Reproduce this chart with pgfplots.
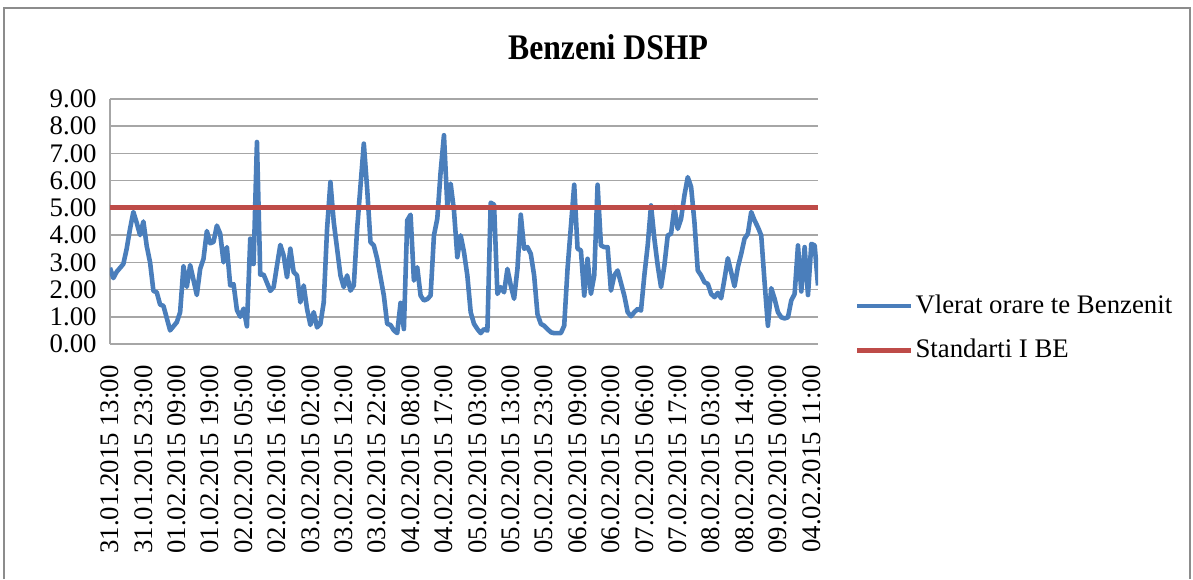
\documentclass[border=0pt]{standalone}
\usepackage{fontspec}
\setmainfont{Liberation Serif}
\usepackage{pgfplots}
\pgfplotsset{compat=1.18}
\definecolor{serblue}{HTML}{4A7EBB}
\definecolor{serred}{HTML}{BE4B48}
\definecolor{gridgray}{HTML}{A6A6A6}
\definecolor{framegray}{HTML}{8C8C8C}

\pgfplotstableread{
x y
0 2.80
1 2.42
2 2.65
4 2.94
5 3.50
6 4.23
7 4.85
8 4.45
9 4.00
10 4.50
11 3.60
12 3.00
13 1.95
14 1.90
15 1.45
16 1.40
18 0.50
19 0.65
20 0.80
21 1.17
22 2.85
23 2.10
24 2.90
26 1.80
27 2.76
28 3.13
29 4.15
30 3.70
31 3.75
32 4.35
33 4.05
34 3.00
35 3.56
36 2.15
37 2.20
38 1.25
39 1.00
40 1.30
41 0.65
42 3.87
43 2.94
44 7.42
45 2.55
46 2.55
47 2.25
48 1.95
49 2.09
50 2.88
51 3.64
52 3.25
53 2.45
54 3.50
55 2.64
56 2.52
57 1.53
58 2.15
59 1.29
60 0.70
61 1.17
62 0.61
63 0.74
64 1.53
65 4.23
66 5.95
67 4.48
68 3.50
69 2.52
70 2.09
71 2.52
72 1.96
73 2.15
74 4.23
76 7.36
77 5.71
78 3.74
79 3.62
80 3.13
82 1.78
83 0.74
84 0.70
85 0.50
86 0.40
87 1.51
88 0.55
89 4.54
90 4.75
91 2.33
92 2.82
93 1.78
94 1.60
95 1.65
96 1.78
97 3.99
98 4.60
99 6.32
100 7.67
101 5.09
102 5.89
103 4.90
104 3.19
105 3.99
106 3.37
107 2.52
108 1.17
109 0.74
110 0.55
111 0.40
112 0.55
113 0.49
114 5.19
115 5.12
116 1.84
117 2.09
118 1.90
119 2.76
120 2.15
121 1.66
122 2.76
123 4.75
124 3.50
125 3.56
126 3.31
127 2.52
128 1.10
129 0.74
130 0.67
131 0.55
132 0.43
133 0.40
134 0.40
135 0.40
136 0.67
137 2.76
139 5.85
140 3.50
141 3.44
142 1.78
143 3.13
144 1.84
145 2.52
146 5.85
147 3.62
148 3.56
149 3.56
150 1.96
151 2.52
152 2.70
154 1.78
155 1.17
156 1.02
157 1.17
158 1.29
159 1.23
160 2.52
161 3.62
162 5.09
163 3.87
164 2.88
165 2.09
166 2.88
167 3.99
168 4.05
169 5.03
170 4.23
171 4.60
172 5.46
173 6.13
174 5.77
175 4.48
176 2.70
177 2.52
178 2.27
179 2.21
180 1.84
181 1.72
182 1.88
183 1.68
184 2.39
185 3.15
186 2.64
187 2.12
188 2.82
189 3.31
190 3.87
191 4.05
192 4.85
193 4.54
194 4.29
195 3.99
196 2.27
197 0.67
198 2.05
199 1.66
200 1.17
201 0.98
202 0.94
203 0.98
204 1.60
205 1.84
206 3.62
207 1.93
208 3.56
209 1.80
210 3.68
211 3.62
212 2.15
}\benzene

\begin{document}
\begin{tikzpicture}
\useasboundingbox (0pt,0pt) rectangle (596.5pt,289.5pt);
\draw[framegray, line width=1pt] (2pt,0pt) -- (2pt,285.5pt) -- (595pt,285.5pt) -- (595pt,0pt);
\node[font=\fontsize{18}{21}\selectfont\bfseries] at (304pt,266pt) {\scalebox{0.88}[1]{Benzeni DSHP}};
\begin{axis}[
  at={(55pt,117.5pt)}, anchor=south west,
  width=354pt, height=122.5pt, scale only axis,
  xmin=0, xmax=212, ymin=0, ymax=9,
  axis x line*=bottom, axis y line*=left,
  axis line style={-, gridgray, line width=0.75pt},
  ymajorgrids, grid style={gridgray, line width=0.75pt},
  major tick length=0pt,
  ytick={0,1,...,9},
  yticklabel={\pgfmathprintnumber[fixed,fixed zerofill,precision=2,assume math mode=true]{\tick}},
  yticklabel style={inner sep=0pt, font=\fontsize{13.4}{16}\selectfont},
  yticklabel shift=6.5pt,
  xtick={0,10,...,210},
  xticklabels={31.01.2015 13:00,31.01.2015 23:00,01.02.2015 09:00,01.02.2015 19:00,02.02.2015 05:00,02.02.2015 16:00,03.02.2015 02:00,03.02.2015 12:00,03.02.2015 22:00,04.02.2015 08:00,04.02.2015 17:00,05.02.2015 03:00,05.02.2015 13:00,05.02.2015 23:00,06.02.2015 09:00,06.02.2015 20:00,07.02.2015 06:00,07.02.2015 17:00,08.02.2015 03:00,08.02.2015 14:00,09.02.2015 00:00,04.02.2015 11:00},
  xticklabel style={rotate=90, anchor=east, inner sep=0pt, font=\fontsize{13.4}{16}\selectfont},
  xticklabel shift=10.5pt,
  legend style={draw=none, fill=none, at={(1.0510,0.065)}, anchor=west,
    font=\fontsize{13.4}{16}\selectfont, inner sep=0pt, row sep=10pt,
    nodes={inner sep=0pt, text height=9.5pt, text depth=2.5pt}},
  legend cell align=left,
  /tikz/every odd column/.append style={column sep=1pt},
  legend image code/.code={\draw[#1] (0pt,0pt) -- (27pt,0pt);},
]
\addplot[serblue, line width=2.3pt, line join=round] table[x=x,y=y] {\benzene};
\addlegendentry{Vlerat orare te Benzenit}
\addplot[serred, line width=2.5pt] coordinates {(0,5) (212,5)};
\addlegendentry{Standarti I BE}
\end{axis}
\end{tikzpicture}
\end{document}
